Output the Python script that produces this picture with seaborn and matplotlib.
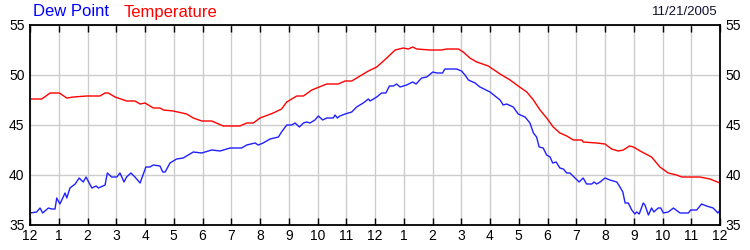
import matplotlib
matplotlib.use("Agg")
import matplotlib.pyplot as plt
import seaborn as sns
import pandas as pd

# hours since midnight
temp_hours = [0.00, 0.41, 0.70, 1.02, 1.28, 1.51, 1.97, 2.43, 2.61, 2.72, 2.96, 3.36, 3.65, 3.83,
              4.00, 4.29, 4.52, 4.64, 4.98, 5.45, 5.68, 5.97, 6.32, 6.72, 7.30, 7.54, 7.77, 8.00,
              8.46, 8.75, 8.93, 9.28, 9.51, 9.80, 10.32, 10.72, 10.96, 11.19, 11.48, 11.77, 12.06,
              12.41, 12.70, 12.98, 13.16, 13.31, 13.45, 13.91, 14.32, 14.49, 14.90, 15.07, 15.30,
              15.54, 15.94, 16.35, 16.70, 16.98, 17.28, 17.51, 17.74, 17.97, 18.20, 18.43, 18.67,
              18.90, 19.19, 19.24, 19.71, 20.00, 20.23, 20.46, 20.64, 20.85, 20.99, 21.22, 21.62,
              21.91, 22.20, 22.49, 22.67, 23.30, 23.65, 24.00]
temp_values = [47.6, 47.6, 48.2, 48.2, 47.7, 47.8, 47.9, 47.9, 48.2, 48.2, 47.8, 47.4, 47.4, 47.1,
               47.2, 46.7, 46.7, 46.5, 46.4, 46.1, 45.7, 45.4, 45.4, 44.9, 44.9, 45.2, 45.2, 45.7,
               46.2, 46.6, 47.3, 47.9, 47.9, 48.5, 49.1, 49.1, 49.4, 49.4, 49.9, 50.4, 50.8,
               51.7, 52.5, 52.7, 52.6, 52.8, 52.6, 52.5, 52.5, 52.6, 52.6, 52.3, 51.7,
               51.3, 50.9, 50.1, 49.5, 48.9, 48.3, 47.5, 46.5, 45.7, 44.8, 44.2, 43.9,
               43.5, 43.5, 43.3, 43.2, 43.1, 42.6, 42.4, 42.5, 42.9, 42.8, 42.4, 41.8,
               40.8, 40.2, 40.0, 39.8, 39.8, 39.6, 39.2]

dew_hours = [0.00, 0.23, 0.35, 0.44, 0.64, 0.75, 0.87, 0.93, 1.04, 1.22, 1.28, 1.39, 1.57, 1.71,
             1.85, 1.95, 2.15, 2.30, 2.38, 2.61, 2.69, 2.84, 3.02, 3.13, 3.27, 3.36, 3.51, 3.65,
             3.83, 4.03, 4.17, 4.29, 4.52, 4.62, 4.70, 4.87, 5.10, 5.33, 5.68, 5.97, 6.32, 6.61,
             6.96, 7.36, 7.54, 7.83, 7.94, 8.11, 8.35, 8.64, 8.75, 8.93, 9.10, 9.22, 9.37, 9.51,
             9.62, 9.74, 9.91, 10.03, 10.18, 10.32, 10.55, 10.61, 10.69, 10.78, 10.96, 11.19,
             11.36, 11.59, 11.77, 11.83, 12.06, 12.23, 12.38, 12.50, 12.64, 12.75, 12.87, 13.10,
             13.31, 13.43, 13.62, 13.80, 14.01, 14.15, 14.35, 14.43, 14.84, 15.01, 15.13, 15.25,
             15.48, 15.65, 16.00, 16.35, 16.46, 16.58, 16.81, 16.98, 17.22, 17.39, 17.51, 17.62,
             17.71, 17.85, 17.97, 18.09, 18.18, 18.30, 18.43, 18.55, 18.67, 18.78, 18.96, 19.10,
             19.24, 19.36, 19.54, 19.62, 19.71, 19.83, 20.00, 20.17, 20.41, 20.52, 20.62, 20.70,
             20.81, 20.93, 21.04, 21.10, 21.19, 21.33, 21.39, 21.51, 21.62, 21.70, 21.85, 21.94,
             22.03, 22.20, 22.38, 22.61, 22.90, 22.98, 23.19, 23.36, 23.53, 23.76, 23.93, 24.00]
dew_values = [36.2, 36.3, 36.7, 36.2, 36.7, 36.6, 36.6, 37.7, 37.1, 38.2, 37.7, 38.7, 39.1, 39.7,
              39.3, 39.8, 38.7, 38.9, 38.7, 39.0, 40.2, 39.8, 39.8, 40.2, 39.3, 39.8, 40.2, 39.8,
              39.2, 40.8, 40.8, 41.0, 40.9, 40.3, 40.3, 41.2, 41.6, 41.7, 42.3, 42.2, 42.5, 42.4,
              42.7, 42.7, 43.0, 43.2, 43.0, 43.2, 43.6, 43.8, 44.3, 45.0, 45.0, 45.2, 44.8, 45.2,
              45.3, 45.2, 45.5, 45.9, 45.5, 45.7, 45.7, 46.0, 45.7, 45.9, 46.1, 46.3,
              46.8, 47.2, 47.6, 47.4, 47.8, 48.2, 48.2, 48.9, 48.9, 49.1, 48.8, 49.0,
              49.3, 49.1, 49.7, 49.8, 50.3, 50.2, 50.2, 50.6, 50.6, 50.4, 50.0, 49.5,
              49.2, 48.8, 48.3, 47.5, 47.0, 47.1, 46.8, 46.1, 45.8, 45.2, 44.2, 43.8,
              42.8, 42.7, 42.0, 41.8, 41.2, 41.3, 40.7, 40.6, 40.2, 40.2, 39.7, 39.3,
              39.7, 39.1, 39.1, 39.3, 39.1, 39.3, 39.7, 39.5, 39.3, 38.8, 38.3, 37.2,
              37.2, 36.5, 36.1, 36.3, 36.1, 37.2, 37.0, 36.0, 36.7, 36.3, 36.7, 36.7,
              36.2, 36.3, 36.7, 36.2, 36.2, 36.5, 36.5, 37.1, 36.9, 36.7, 36.2, 36.5]

x_ticks = list(range(0, 25))
x_labels = ["12", "1", "2", "3", "4", "5", "6", "7", "8", "9", "10", "11",
            "12", "1", "2", "3", "4", "5", "6", "7", "8", "9", "10", "11", "12"]
y_ticks = [35, 40, 45, 50, 55]
date_text = "11/21/2005"

sns.set_style("white")
plt.rcParams['font.family'] = ['Liberation Sans', 'DejaVu Sans']

fig = plt.figure(figsize=(7.5, 2.5), dpi=100)
ax = fig.add_axes([30 / 750, 25 / 250, 690 / 750, 200 / 250])

temp_df = pd.DataFrame({"hour": temp_hours, "value": temp_values})
dew_df = pd.DataFrame({"hour": dew_hours, "value": dew_values})

sns.lineplot(data=temp_df, x="hour", y="value", ax=ax, color="#ff0000", linewidth=1.0,
             estimator=None, sort=False)
sns.lineplot(data=dew_df, x="hour", y="value", ax=ax, color="#2020ff", linewidth=1.0,
             estimator=None, sort=False)

ax.set_xlim(0, 24)
ax.set_ylim(35, 55)
ax.set_xticks(x_ticks)
ax.set_xticklabels(x_labels)
ax.set_yticks(y_ticks)
ax.set_xlabel("")
ax.set_ylabel("")

ax.grid(True, color="#cccccc", linewidth=1.0)
ax.set_axisbelow(True)
for s in ax.spines.values():
    s.set_color("black")
    s.set_linewidth(1.3)
    s.set_visible(True)

ax.tick_params(axis="x", which="both", direction="in", length=5, width=1, color="black",
               top=True, bottom=True, labelsize=10, pad=3, labelcolor="black")
ax.tick_params(axis="y", which="both", length=0, labelleft=True, labelright=True,
               labelsize=10, pad=4, labelcolor="black")

fig.text(33 / 750, 1 - 12 / 250, "Dew Point", color="#0000ff", fontsize=12,
         ha="left", va="center")
fig.text(124 / 750, 1 - 12 / 250, "Temperature", color="#ff0000", fontsize=12,
         ha="left", va="center")
fig.text(718 / 750, 1 - 12 / 250, date_text, color="#101030", fontsize=9.5,
         ha="right", va="center")

fig.savefig("out.png", dpi=100)
